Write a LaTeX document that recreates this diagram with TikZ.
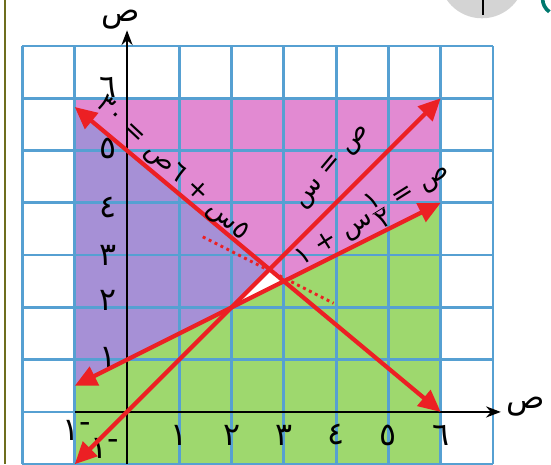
\documentclass[tikz,border=0pt]{standalone}
\usepackage{fontspec}
\newfontfamily\arabicfont[Script=Arabic]{DejaVu Sans}
\TeXXeTstate=1
\usetikzlibrary{calc,arrows.meta}
\definecolor{gridblue}{RGB}{86,160,210}
\definecolor{regpink}{RGB}{226,138,210}
\definecolor{regpurple}{RGB}{166,144,214}
\definecolor{reggreen}{RGB}{158,216,110}
\definecolor{linered}{RGB}{236,32,36}
\definecolor{edgeolive}{RGB}{110,110,30}
\definecolor{badgegray}{RGB}{212,212,212}
\definecolor{badgeteal}{RGB}{0,120,110}

\begin{document}
\begin{tikzpicture}[x=1cm, y=1cm,
  redline/.style={linered, line width=2.3pt, {Triangle[length=12pt,width=11pt]}-{Triangle[length=12pt,width=11pt]}},
  axis/.style={line width=1.3pt, -{Stealth[length=8pt,width=6pt]}},
  tick/.style={font=\arabicfont\LARGE, inner sep=0pt},
  eqlbl/.style={font=\arabicfont\Large, inner sep=0pt}]
  \useasboundingbox (-2.43,-1.0) rectangle (8.11,7.88);
  % 页边与角标
  \draw[edgeolive, line width=1.2pt] (-2.33,-1) -- (-2.33,7.88);
  \fill[badgegray] (6.79,8.35) circle (0.82);
  \draw[line width=1.5pt] (6.81,7.88) -- (6.81,7.6);
  \draw[badgeteal, line width=2pt] (7.95,7.9) arc[start angle=180, end angle=235, radius=0.3];
  % 区域
  \fill[reggreen] (-1,-1) -- (6,-1) -- (6,4) -- (-1,0.5) -- cycle;
  \fill[regpink] (-1,35/6) -- (-1,6) -- (6,6) -- (6,4) -- (3,2.5) -- cycle;
  \fill[regpurple] (-1,0.5) -- (2,2) -- (30/11,30/11) -- (-1,35/6) -- cycle;
  % 网格
  \draw[gridblue, line width=1.5pt] (-2,-1) grid (7,7);
  % 虚线
  \coordinate (D1) at (1.45,3.35);
  \coordinate (D2) at (3.95,2.08);
  \draw[linered, dotted, line width=1.6pt] (D1) -- (D2);
  \fill[white] (2,2) -- (30/11,30/11) -- (3,2.5) -- cycle;
  % 坐标轴
  \coordinate (xs) at (-1,0);
  \coordinate (xe) at (7.15,0);
  \coordinate (ys) at (0,-1);
  \coordinate (ye) at (0,7.3);
  \draw[axis] (xs) -- (xe);
  \draw[axis] (ys) -- (ye);
  \node[font=\arabicfont\LARGE] (xlab) at (7.62,0.1) {ص};
  \node[font=\arabicfont\LARGE] (ylab) at (-0.13,7.5) {ص};
  \foreach \i/\t in {1/١,2/٢,3/٣,4/٤,5/٥,6/٦}
    \node[tick] (xt\i) at (\i,-0.44) {\t};
  \foreach \j/\p/\t in {1/1.05/١,2/2.14/٢,3/3.0/٣,4/3.92/٤,5/5.05/٥,6/6.2/٦}
    \node[tick] (yt\j) at (-0.36,\p) {\t};
  \node[tick] (xtm) at (-0.97,-0.36) {١\raisebox{0.5ex}{-}};
  \node[tick] (ytm) at (-0.42,-0.7) {١\raisebox{0.5ex}{-}};
  % 三条直线
  \coordinate (A1) at (-1,-1);
  \coordinate (A2) at (6,6);
  \coordinate (B1) at (-1,0.5);
  \coordinate (B2) at (6,4);
  \coordinate (C1) at (-1,35/6);
  \coordinate (C2) at (6,0);
  \draw[redline] (A1) -- (A2);
  \draw[redline] (B1) -- (B2);
  \draw[redline] (C1) -- (C2);
  % 方程标注
  \node[eqlbl, rotate=-43] (eqC) at (0.85,4.64) {\beginR ٥س + ٦ص = ٣٠\endR};
  \node[eqlbl, rotate=50] (eqA) at (3.95,4.68) {\beginR ص = س\endR};
  \node[eqlbl, rotate=32] (eqB) at (4.68,3.8) {\beginR ص = $\frac{\hbox{١}}{\hbox{٢}}$س + ١\endR};
\end{tikzpicture}
\end{document}
